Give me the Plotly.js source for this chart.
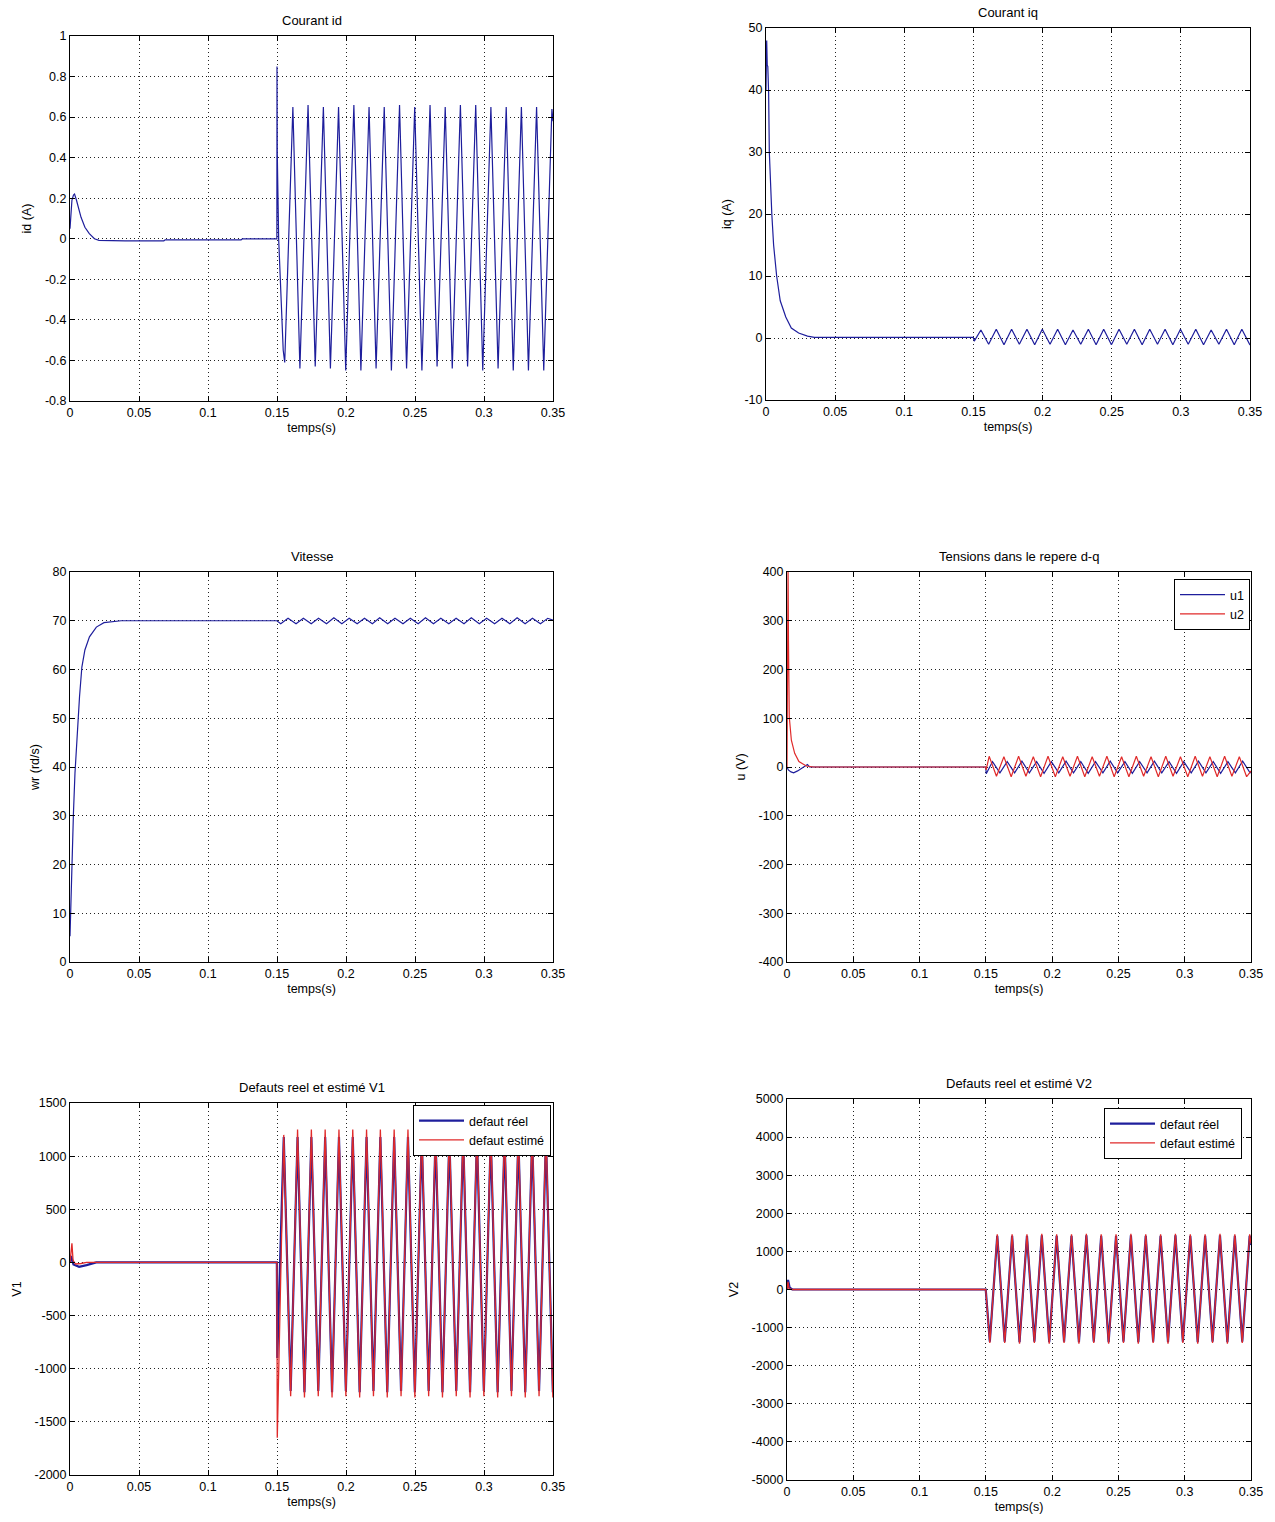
<!DOCTYPE html>
<html>
<head>
<meta charset="utf-8">
<script src="https://cdn.plot.ly/plotly-3.0.1.min.js"></script>
<style>html,body{margin:0;padding:0;background:#fff;}#chart{width:1275px;height:1522px;}</style>
</head>
<body>
<div id="chart"></div>
<script>
// ---------------- data ----------------
const X_TICKS = [0, 0.05, 0.1, 0.15, 0.2, 0.25, 0.3, 0.35];
const ID_TICKS = [-0.8, -0.6, -0.4, -0.2, 0, 0.2, 0.4, 0.6, 0.8, 1];
const IQ_TICKS = [-10, 0, 10, 20, 30, 40, 50];
const WR_TICKS = [0, 10, 20, 30, 40, 50, 60, 70, 80];
const U_TICKS = [-400, -300, -200, -100, 0, 100, 200, 300, 400];
const V1_TICKS = [-2000, -1500, -1000, -500, 0, 500, 1000, 1500];
const V2_TICKS = [-5000, -4000, -3000, -2000, -1000, 0, 1000, 2000, 3000, 4000, 5000];

const TITLES = ["Courant id", "Courant iq", "Vitesse", "Tensions dans le repere d-q",
                "Defauts reel et estimé V1", "Defauts reel et estimé V2"];
const Y_LABELS = ["id (A)", "iq (A)", "wr (rd/s)", "u (V)", "V1", "V2"];
const X_LABEL = "temps(s)";

// Courant id
const ID_T = [0, 0.0008, 0.0014, 0.0025, 0.0033, 0.0047, 0.006, 0.008, 0.0108, 0.014, 0.0177, 0.021, 0.04, 0.068, 0.069, 0.124, 0.125, 0.1499, 0.1500, 0.1502, 0.1512, 0.1545,
  0.1556, 0.1615, 0.1666, 0.1725, 0.1777, 0.1836, 0.1887, 0.1946, 0.1998, 0.2057, 0.2108, 0.2167, 0.2218, 0.2277, 0.2329, 0.2388, 0.2439, 0.2498, 0.2550, 0.2609,
  0.2660, 0.2719, 0.2770, 0.2829, 0.2881, 0.2940, 0.2991, 0.3050, 0.3102, 0.3161, 0.3212, 0.3271, 0.3322, 0.3381, 0.3433, 0.3492, 0.35];
const ID_V = [0.05, 0.14, 0.19, 0.215, 0.22, 0.19, 0.156, 0.106, 0.057, 0.025, 0.0, -0.008, -0.01, -0.01, -0.005, -0.005, 0.0, 0.0, 0.85, 0.42, 0.0, -0.55,
  -0.61, 0.65, -0.64, 0.66, -0.63, 0.65, -0.64, 0.65, -0.65, 0.66, -0.65, 0.65, -0.64, 0.65, -0.65, 0.66, -0.64, 0.65, -0.65, 0.66,
  -0.63, 0.65, -0.64, 0.66, -0.63, 0.66, -0.65, 0.65, -0.64, 0.65, -0.65, 0.65, -0.65, 0.65, -0.65, 0.64, 0.58];

// Courant iq
const IQ_T = [0, 0.0005, 0.0009, 0.0013, 0.0019, 0.0024, 0.0042, 0.0055, 0.0077, 0.0103, 0.0143, 0.0183, 0.0236, 0.030, 0.035, 0.1499, 0.1506,
  0.1554, 0.1610, 0.1665, 0.1721, 0.1776, 0.1832, 0.1887, 0.1943, 0.1998, 0.2054, 0.2109, 0.2165, 0.2220, 0.2276, 0.2331, 0.2387, 0.2442, 0.2498,
  0.2553, 0.2609, 0.2664, 0.2720, 0.2775, 0.2831, 0.2886, 0.2942, 0.2997, 0.3053, 0.3108, 0.3164, 0.3219, 0.3275, 0.3330, 0.3386, 0.3441, 0.3497, 0.35];
const IQ_V = [40, 48, 44, 43.8, 39.5, 30, 20, 15, 10, 6, 3.4, 1.6, 0.8, 0.3, 0.1, 0.1, -0.5,
  1.3, -1.0, 1.4, -1.1, 1.4, -1.0, 1.4, -1.1, 1.4, -1.0, 1.4, -1.1, 1.3, -1.0, 1.4, -1.1, 1.4, -1.1,
  1.4, -1.0, 1.4, -1.1, 1.4, -1.0, 1.4, -1.1, 1.4, -1.0, 1.4, -1.1, 1.3, -1.0, 1.4, -1.1, 1.4, -1.0, -0.9];

// Vitesse
const WR_T = [0, 0.00055, 0.0014, 0.0025, 0.0036, 0.0044, 0.0055, 0.0069, 0.0086, 0.0108, 0.0141, 0.0191, 0.0246, 0.0329, 0.037, 0.1499,
  0.1527, 0.1580, 0.1638, 0.1691, 0.1748, 0.1801, 0.1859, 0.1912, 0.1970, 0.2023, 0.2081, 0.2134, 0.2191, 0.2244, 0.2302, 0.2355, 0.2413, 0.2466,
  0.2523, 0.2576, 0.2634, 0.2687, 0.2745, 0.2798, 0.2855, 0.2908, 0.2966, 0.3019, 0.3077, 0.3130, 0.3187, 0.3240, 0.3298, 0.3351, 0.3409, 0.3462, 0.35];
const WR_V = [5.3, 11.4, 19.6, 30.5, 38.7, 42.8, 48.3, 54.4, 60.5, 64, 66.7, 68.7, 69.6, 69.9, 70, 70,
  69.4, 70.5, 69.4, 70.5, 69.4, 70.5, 69.4, 70.6, 69.4, 70.5, 69.4, 70.5, 69.4, 70.6, 69.4, 70.5, 69.4, 70.5,
  69.4, 70.6, 69.4, 70.5, 69.4, 70.5, 69.4, 70.6, 69.4, 70.5, 69.4, 70.5, 69.4, 70.6, 69.4, 70.5, 69.4, 70.5, 70.1];

// Tensions u1 / u2
const U1_T = [0, 0.001, 0.003, 0.005, 0.008, 0.0127, 0.0154, 0.017, 0.1499, 0.1503,
  0.1550, 0.1606, 0.1661, 0.1717, 0.1772, 0.1828, 0.1883, 0.1939, 0.1994, 0.2050, 0.2105, 0.2161, 0.2216, 0.2272, 0.2327, 0.2383, 0.2438, 0.2494,
  0.2549, 0.2605, 0.2660, 0.2716, 0.2771, 0.2827, 0.2882, 0.2938, 0.2993, 0.3049, 0.3104, 0.3160, 0.3215, 0.3271, 0.3326, 0.3382, 0.3437, 0.3493, 0.35];
const U1_V = [0, -6, -10, -12, -8, 0, 5, 0, 0, -14,
  11, -12, 11, -12, 12, -12, 11, -13, 11, -12, 12, -12, 11, -13, 11, -12, 12, -12,
  11, -13, 11, -12, 12, -12, 11, -13, 11, -12, 12, -12, 11, -13, 11, -12, 12, -12, -10];
const U2_T = [0, 0.0003, 0.0008, 0.0011, 0.0017, 0.0033, 0.0058, 0.009, 0.0146, 0.02, 0.1499, 0.1502,
  0.1525, 0.1580, 0.1636, 0.1691, 0.1747, 0.1802, 0.1858, 0.1913, 0.1969, 0.2024, 0.2080, 0.2135, 0.2191, 0.2246, 0.2302, 0.2357, 0.2413, 0.2468,
  0.2524, 0.2579, 0.2635, 0.2690, 0.2746, 0.2801, 0.2857, 0.2912, 0.2968, 0.3023, 0.3079, 0.3134, 0.3190, 0.3245, 0.3301, 0.3356, 0.3412, 0.3467, 0.35];
const U2_V = [0, 400, 410, 260, 103, 55, 28, 11, 2, 0, 0, -6,
  22, -19, 21, -20, 22, -19, 21, -20, 22, -20, 21, -19, 22, -20, 21, -19, 22, -20,
  21, -20, 22, -19, 21, -20, 22, -19, 21, -20, 22, -19, 21, -20, 22, -19, 21, -20, -8];

// Defauts V1 (réel / estimé)
const V1_OSC_T = [0.1549, 0.1599, 0.1649, 0.1699, 0.1749, 0.1799, 0.1849, 0.1899, 0.1949, 0.1999, 0.2049, 0.2099, 0.2149, 0.2199, 0.2249, 0.2299,
  0.2349, 0.2399, 0.2449, 0.2499, 0.2549, 0.2599, 0.2649, 0.2699, 0.2749, 0.2799, 0.2849, 0.2899, 0.2949, 0.2999, 0.3049, 0.3099,
  0.3149, 0.3199, 0.3249, 0.3299, 0.3349, 0.3399, 0.3449, 0.3499, 0.35];
const V1_REEL_T = [0, 0.0008, 0.0025, 0.0066, 0.012, 0.019, 0.1499, 0.1502];
const V1_REEL_V = [0, 60, -20, -41, -25, 0, 0, -900,
  1180, -1210, 1180, -1220, 1180, -1210, 1180, -1220, 1180, -1210, 1180, -1220, 1180, -1210, 1180, -1220,
  1180, -1210, 1180, -1220, 1180, -1210, 1180, -1220, 1180, -1210, 1180, -1220, 1180, -1210, 1180, -1220,
  1180, -1210, 1180, -1220, 1180, -1210, 1180, -1220, -1170];
const V1_EST_T = [0, 0.0007, 0.0014, 0.0022, 0.004, 0.008, 0.012, 0.1499, 0.1502];
const V1_EST_V = [0, 90, 180, 20, -15, -10, 0, 0, -1650,
  1200, -1260, 1250, -1270, 1250, -1260, 1250, -1270, 1250, -1260, 1250, -1270, 1250, -1260, 1250, -1270,
  1250, -1260, 1250, -1270, 1250, -1260, 1250, -1270, 1250, -1260, 1250, -1270, 1250, -1260, 1250, -1270,
  1250, -1260, 1250, -1270, 1250, -1260, 1250, -1270, -1200];

// Defauts V2 (réel / estimé)
const V2_OSC_T = [0.1530, 0.1586, 0.1642, 0.1698, 0.1754, 0.1810, 0.1866, 0.1922, 0.1978, 0.2034, 0.2090, 0.2146, 0.2202, 0.2258, 0.2314, 0.2370,
  0.2426, 0.2482, 0.2538, 0.2594, 0.2650, 0.2706, 0.2762, 0.2818, 0.2874, 0.2930, 0.2986, 0.3042, 0.3098, 0.3154, 0.3210, 0.3266,
  0.3322, 0.3378, 0.3434, 0.3490, 0.35];
const V2_REEL_T = [0, 0.0008, 0.002, 0.004, 0.1499];
const V2_REEL_V = [0, 250, 50, 0, 0,
  -1370, 1410, -1370, 1410, -1380, 1410, -1370, 1420, -1380, 1410, -1370, 1410, -1380, 1420, -1370, 1410,
  -1380, 1410, -1370, 1420, -1380, 1410, -1370, 1410, -1380, 1420, -1370, 1410, -1380, 1410, -1370, 1420,
  -1380, 1410, -1370, 1410, 1170];
const V2_EST_T = [0, 0.0008, 0.0015, 0.004, 0.1499];
const V2_EST_V = [0, 200, 30, 0, 0,
  -1400, 1450, -1400, 1450, -1420, 1450, -1400, 1460, -1420, 1450, -1400, 1450, -1420, 1460, -1400, 1450,
  -1420, 1450, -1400, 1460, -1420, 1450, -1400, 1450, -1420, 1460, -1400, 1450, -1420, 1450, -1400, 1460,
  -1420, 1450, -1400, 1450, 1200];

// ---------------- styling ----------------
const BLUE = '#1e1e9c';
const RED = '#e02a2a';
const FONT = 'Liberation Sans, Arial, Helvetica, sans-serif';
const FS = 12.5;

function line(x, y, xa, ya, color, width, name, legend, showlegend) {
  return {x: x, y: y, xaxis: xa, yaxis: ya, type: 'scatter', mode: 'lines', name: name,
    line: {color: color, width: width}, showlegend: !!showlegend, legend: legend || 'legend', hoverinfo: 'skip'};
}

const traces = [
  line(ID_T, ID_V, 'x', 'y', BLUE, 1.2),
  line(IQ_T, IQ_V, 'x2', 'y2', BLUE, 1.2),
  line(WR_T, WR_V, 'x3', 'y3', BLUE, 1.2),
  line(U1_T, U1_V, 'x4', 'y4', BLUE, 1.2, 'u1', 'legend', true),
  line(U2_T, U2_V, 'x4', 'y4', RED, 1.2, 'u2', 'legend', true),
  line(V1_REEL_T.concat(V1_OSC_T), V1_REEL_V, 'x5', 'y5', BLUE, 2.2, 'defaut réel', 'legend2', true),
  line(V1_EST_T.concat(V1_OSC_T), V1_EST_V, 'x5', 'y5', RED, 1.3, 'defaut estimé', 'legend2', true),
  line(V2_REEL_T.concat(V2_OSC_T), V2_REEL_V, 'x6', 'y6', BLUE, 2.2, 'defaut réel', 'legend3', true),
  line(V2_EST_T.concat(V2_OSC_T), V2_EST_V, 'x6', 'y6', RED, 1.3, 'defaut estimé', 'legend3', true)
];

const W = 1275, H = 1522;
function px(v) { return v / W; }
function py(v) { return 1 - v / H; }

// plot boxes in pixels: [left, right, top, bottom]
const BOX = [
  [70, 553, 36, 401],
  [766, 1250, 28, 400],
  [70, 553, 572, 962],
  [787, 1251, 572, 962],
  [70, 553, 1103, 1475],
  [787, 1251, 1099, 1480]
];
const Y_TICKS = [ID_TICKS, IQ_TICKS, WR_TICKS, U_TICKS, V1_TICKS, V2_TICKS];

function axisCommon() {
  return {
    showline: true, linecolor: '#000', linewidth: 1, mirror: 'ticks',
    ticks: 'inside', ticklen: 5, tickcolor: '#000', tickwidth: 1,
    showgrid: true, gridcolor: '#222', griddash: '1px,3px', gridwidth: 1,
    zeroline: false, fixedrange: true,
    tickfont: {family: FONT, size: FS, color: '#000'}
  };
}

function legendBox(xr, yt) {
  return {x: px(xr), y: py(yt), xanchor: 'right', yanchor: 'top', bgcolor: '#fff',
    bordercolor: '#000', borderwidth: 1, itemwidth: 45,
    font: {family: FONT, size: FS, color: '#000'}};
}

const layout = {
  width: W, height: H,
  margin: {l: 0, r: 0, t: 0, b: 0},
  paper_bgcolor: '#fff', plot_bgcolor: '#fff',
  font: {family: FONT, size: FS, color: '#000'},
  annotations: [],
  legend: legendBox(1250, 579),
  legend2: legendBox(551, 1105),
  legend3: legendBox(1242, 1108)
};

BOX.forEach(function (b, i) {
  const n = i === 0 ? '' : String(i + 1);
  const xa = axisCommon();
  xa.domain = [px(b[0]), px(b[1])];
  xa.range = [0, 0.35];
  xa.anchor = 'y' + n;
  xa.tickvals = X_TICKS;
  xa.ticktext = X_TICKS.map(String);
  xa.title = {text: X_LABEL, standoff: 4, font: {family: FONT, size: FS, color: '#000'}};
  const ya = axisCommon();
  ya.domain = [py(b[3]), py(b[2])];
  const yt = Y_TICKS[i];
  ya.range = [yt[0], yt[yt.length - 1]];
  ya.anchor = 'x' + n;
  ya.tickvals = yt;
  ya.ticktext = yt.map(String);
  ya.title = {text: Y_LABELS[i], standoff: 10, font: {family: FONT, size: FS, color: '#000'}};
  layout['xaxis' + n] = xa;
  layout['yaxis' + n] = ya;
  layout.annotations.push({
    text: TITLES[i], xref: 'paper', yref: 'paper', showarrow: false,
    x: px((b[0] + b[1]) / 2), y: py(b[2] - 6), xanchor: 'center', yanchor: 'bottom',
    font: {family: FONT, size: FS + 0.5, color: '#000'}
  });
});

Plotly.newPlot('chart', traces, layout, {displayModeBar: false, staticPlot: true});
</script>
</body>
</html>
